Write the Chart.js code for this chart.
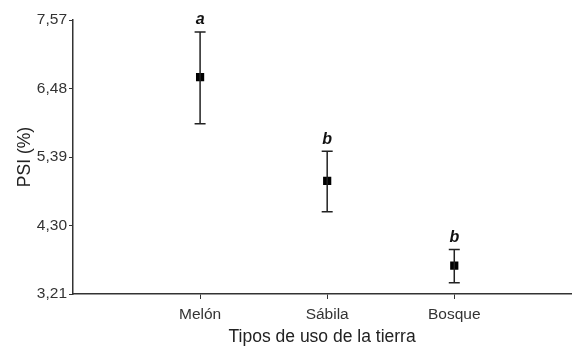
<!DOCTYPE html>
<html lang="es">
<head>
    <meta charset="UTF-8">
    <title>PSI por uso de la tierra</title>
    <script src="https://cdn.jsdelivr.net/npm/chart.js"></script>
    <style>
        body { margin: 0; padding: 0; background: #fff; }
        canvas { display: block; }
    </style>
</head>
<body>
    <canvas id="psiChart" width="577" height="350"></canvas>

    <script>
        // Data
        const categories = ['Melón', 'Sábila', 'Bosque'];
        const means = [6.66, 5.01, 3.66];
        const upper = [7.38, 5.48, 3.92];
        const lower = [5.92, 4.52, 3.39];
        const letters = ['a', 'b', 'b'];
        const yTicks = [3.21, 4.30, 5.39, 6.48, 7.57];

        const points = means.map((m, i) => ({ x: i + 1, y: m }));
        const fontFam = 'Arial, "Liberation Sans", sans-serif';

        // draws the whiskers and the significance letters
        const errorBars = {
            id: 'errorBars',
            afterDatasetsDraw(chart) {
                const ctx = chart.ctx;
                const xs = chart.scales.x, ys = chart.scales.y;
                ctx.save();
                ctx.strokeStyle = '#222';
                ctx.lineWidth = 1.5;
                means.forEach((m, i) => {
                    const px = xs.getPixelForValue(i + 1);
                    const top = ys.getPixelForValue(upper[i]);
                    const bot = ys.getPixelForValue(lower[i]);
                    ctx.beginPath();
                    ctx.moveTo(px, top); ctx.lineTo(px, bot);
                    ctx.moveTo(px - 5.5, top); ctx.lineTo(px + 5.5, top);
                    ctx.moveTo(px - 5.5, bot); ctx.lineTo(px + 5.5, bot);
                    ctx.stroke();
                    ctx.fillStyle = '#111';
                    ctx.font = 'italic bold 16px ' + fontFam;
                    ctx.textAlign = 'center';
                    ctx.textBaseline = 'bottom';
                    ctx.fillText(letters[i], px, top - 4);
                });
                ctx.restore();
            }
        };

        new Chart(document.getElementById('psiChart'), {
            type: 'scatter',
            data: {
                datasets: [{
                    data: points,
                    pointStyle: 'rect',
                    pointRadius: 5.8,
                    pointHoverRadius: 5.8,
                    backgroundColor: '#000',
                    borderColor: '#000',
                    borderWidth: 0
                }]
            },
            options: {
                responsive: false,
                animation: false,
                events: [],
                layout: { padding: { top: 20, right: 0, left: 0, bottom: 0 } },
                plugins: { legend: { display: false }, tooltip: { enabled: false } },
                scales: {
                    x: {
                        type: 'linear',
                        min: 0,
                        max: 3.92,
                        afterBuildTicks: s => { s.ticks = [1, 2, 3].map(v => ({ value: v })); },
                        afterFit: s => { s.height = 56; },
                        ticks: {
                            callback: v => categories[v - 1],
                            autoSkip: false,
                            color: '#333',
                            font: { family: fontFam, size: 15.5 },
                            padding: 6,
                            maxRotation: 0
                        },
                        grid: { drawOnChartArea: false, drawTicks: true, tickLength: 5, color: '#333' },
                        border: { color: '#333', width: 1.5 },
                        title: {
                            display: true,
                            text: 'Tipos de uso de la tierra',
                            color: '#222',
                            font: { family: fontFam, size: 17.5 },
                            padding: { top: 0, bottom: 2.5 }
                        }
                    },
                    y: {
                        min: 3.21,
                        max: 7.57,
                        afterBuildTicks: s => { s.ticks = yTicks.map(v => ({ value: v })); },
                        afterFit: s => { s.width = 73; },
                        ticks: {
                            callback: v => v.toFixed(2).replace('.', ','),
                            autoSkip: false,
                            color: '#333',
                            font: { family: fontFam, size: 15.5 },
                            padding: 2
                        },
                        grid: { drawOnChartArea: false, drawTicks: true, tickLength: 4, color: '#333' },
                        border: { color: '#333', width: 1.5 },
                        title: {
                            display: true,
                            text: 'PSI (%)',
                            color: '#222',
                            font: { family: fontFam, size: 17.5 },
                            padding: { top: 14.5, bottom: 0 }
                        }
                    }
                }
            },
            plugins: [errorBars]
        });
    </script>
</body>
</html>
